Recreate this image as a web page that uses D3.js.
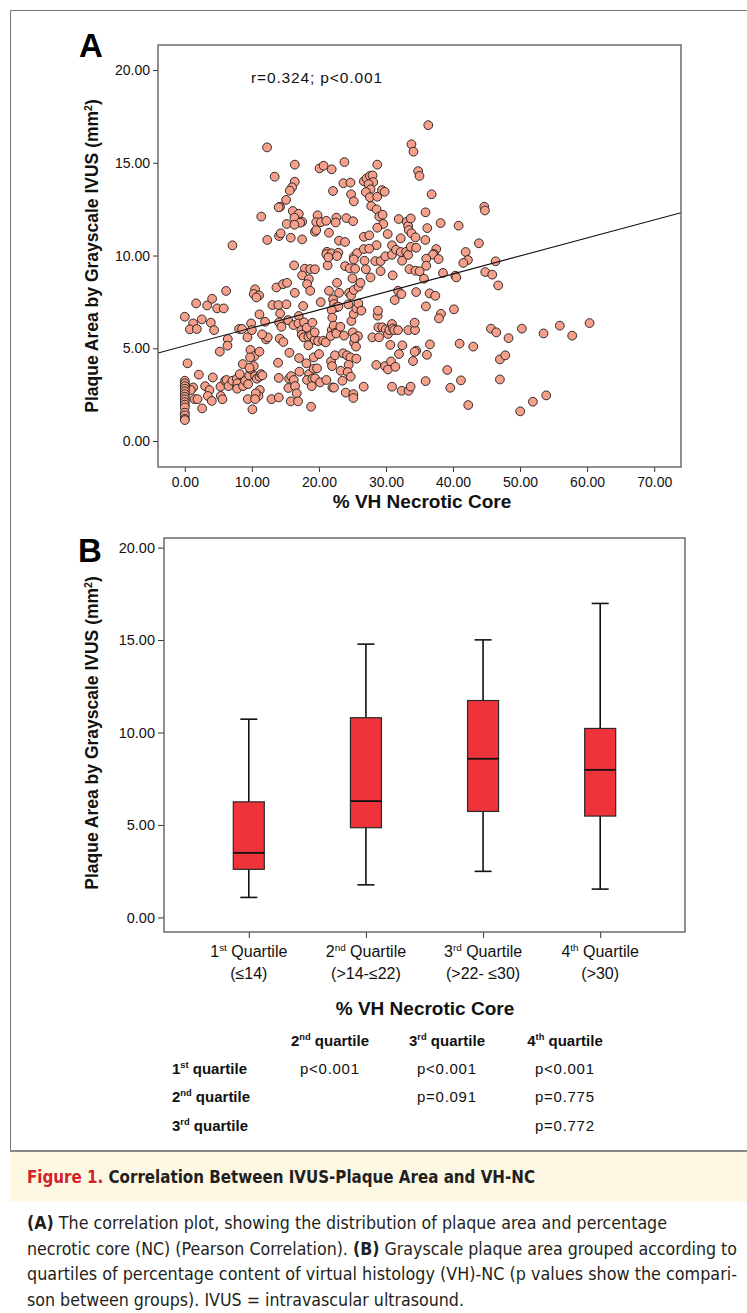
<!DOCTYPE html>
<html lang='en'>

<head>
    <meta charset='utf-8'>
    <title>Figure 1</title>
    <style>
        body {
            margin: 0;
            background-color: white;
        }

        svg {
            display: block;
            font-family: 'Liberation Sans', Arimo, Arial, sans-serif;
        }

        .caption {
            font-family: 'Liberation Sans Narrow', 'DejaVu Sans Condensed', sans-serif;
        }
    </style>
    <script src='https://cdnjs.cloudflare.com/ajax/libs/d3/7.8.5/d3.min.js' charset='utf-8'></script>
</head>

<body>
    <div id='placeholder'></div>
    <script type="text/javascript">
        const WIDTH = 747;
        const HEIGHT = 1313;

        // panel A: % VH necrotic core vs plaque area (mm2)
        var scatterPoints = [
            [12.27, 15.83], [16.4, 14.9], [20.1, 14.7], [20.7, 14.84], [21.9, 14.65], [23.8, 15.04], [28.7, 14.9],
            [33.8, 16.0], [34.1, 15.6], [13.4, 14.25], [16.4, 13.98], [16.0, 13.68], [15.65, 13.5], [15.1, 13.0],
            [14.2, 12.63], [14.0, 12.6], [22.1, 13.48], [23.65, 13.9], [24.7, 13.93], [24.8, 13.3], [25.2, 12.92],
            [26.7, 14.0], [27.1, 14.16], [27.6, 14.29], [28.0, 14.32], [28.1, 13.96], [27.4, 13.85], [27.7, 13.57],
            [27.0, 13.42], [27.6, 13.14], [28.7, 13.17], [27.8, 12.67], [28.6, 12.49], [29.4, 13.53], [29.8, 13.44],
            [29.0, 12.1], [29.5, 12.2], [29.6, 11.7], [28.7, 11.5], [34.8, 14.55], [35.0, 14.29], [11.4, 12.1],
            [7.1, 10.55], [12.3, 10.84], [14.05, 11.05], [14.3, 11.2], [15.8, 10.96], [17.5, 10.87],
            [16.1, 12.4], [17.0, 12.25], [16.35, 12.04], [17.5, 11.82], [17.2, 11.77], [15.2, 11.7], [16.35, 11.66],
            [19.8, 12.17], [19.6, 11.8], [20.3, 11.8], [21.1, 11.87], [22.6, 12.04], [22.5, 11.78], [24.1, 12.02],
            [25.1, 11.85], [19.4, 11.28], [19.6, 11.37], [21.5, 11.23], [23.0, 10.8], [23.9, 10.73],
            [26.7, 11.01], [27.5, 11.09], [28.6, 10.56], [30.25, 11.16], [30.9, 10.55], [31.9, 11.97], [32.2, 10.93],
            [33.1, 11.82], [33.3, 11.59], [33.7, 12.0], [33.4, 11.37], [33.8, 11.2], [34.4, 10.98],
            [21.2, 10.2], [21.1, 10.08], [21.9, 10.12], [22.9, 10.15], [22.7, 9.97], [21.3, 9.47], [21.4, 9.9],
            [25.2, 9.93], [25.7, 10.13], [26.7, 10.35], [27.5, 10.37], [25.2, 9.79], [26.8, 9.72], [28.4, 9.7],
            [29.2, 9.7], [29.9, 9.96], [30.9, 10.04], [31.5, 10.31], [32.2, 10.19], [33.0, 10.2], [33.3, 10.03],
            [32.4, 9.72], [33.7, 10.47], [34.5, 10.42], [33.5, 9.27], [34.4, 9.18], [16.3, 9.47],
            [17.9, 9.29], [18.7, 9.27], [19.4, 9.26], [17.5, 8.93], [18.5, 8.73],
            [23.9, 9.43], [24.6, 9.31], [25.4, 9.29], [27.0, 9.26], [25.0, 8.77], [27.7, 8.82], [29.2, 9.16], [31.0, 8.93],
            [10.48, 8.18], [10.28, 7.93], [11.08, 7.85], [10.68, 7.74], [13.66, 8.28], [14.65, 8.46], [15.25, 8.53],
            [16.4, 7.99], [18.23, 8.46], [18.7, 8.1], [21.5, 8.1], [22.7, 8.53], [23.0, 7.99], [24.5, 7.99],
            [24.8, 7.85], [25.2, 8.14], [25.9, 8.32], [26.2, 8.53], [31.8, 8.1], [32.3, 7.92], [34.5, 8.03],
            [1.69, 7.42], [3.33, 7.31], [4.07, 7.67], [4.82, 7.15], [5.81, 7.15], [6.16, 8.09], [0.0, 6.70],
            [1.24, 6.34], [0.75, 6.02], [1.79, 6.04], [2.53, 6.56], [3.88, 6.38], [4.37, 5.98],
            [6.41, 5.50], [6.36, 5.14], [5.22, 4.82], [8.1, 6.04], [8.54, 6.04], [9.89, 6.34], [9.34, 5.59],
            [9.79, 4.91], [10.38, 4.58], [11.13, 4.82], [11.97, 6.43], [12.12, 5.48], [12.37, 5.59], [11.53, 5.75],
            [11.13, 6.83], [10.0, 5.98], [13.06, 7.33], [13.96, 7.33], [14.21, 6.88], [14.06, 6.40], [14.41, 6.16],
            [14.16, 5.52], [14.70, 5.34], [15.40, 6.52], [15.15, 7.37], [16.99, 6.74], [17.64, 7.28], [16.2, 6.25],
            [16.94, 6.34], [17.39, 5.98], [17.78, 6.40], [18.18, 6.11], [19.03, 6.38], [17.44, 5.73], [17.73, 5.59],
            [18.43, 5.62], [18.83, 5.71], [18.43, 5.16], [19.37, 5.45], [19.87, 5.39], [19.37, 5.86], [20.27, 7.49],
            [20.62, 5.41], [21.01, 5.32], [22.1, 7.64], [22.25, 7.39], [22.6, 7.21], [22.9, 7.24], [21.9, 7.06],
            [22.0, 6.65], [21.9, 5.98], [22.2, 6.22], [22.45, 5.84], [21.76, 5.66], [22.6, 5.80], [23.2, 6.16],
            [23.75, 5.68], [24.39, 7.37], [24.84, 6.47], [25.19, 6.85], [25.58, 7.15], [25.88, 7.42], [26.33, 7.03],
            [25.04, 5.86], [25.24, 5.30], [25.53, 5.09], [25.83, 5.66], [25.33, 5.55],
            [27.97, 5.59], [28.96, 5.59], [28.76, 6.76], [28.81, 7.03], [28.86, 6.13], [29.46, 6.13], [29.95, 6.02],
            [30.3, 5.77], [30.5, 5.98], [30.9, 6.31], [31.05, 6.07], [31.25, 5.98], [31.3, 7.60], [31.8, 5.98],
            [30.65, 5.18], [31.94, 4.69], [32.44, 5.16], [33.33, 5.98], [34.33, 5.98], [34.28, 6.38], [34.52, 4.87],
            [34.28, 4.81], [34.03, 4.31], [15.6, 4.76], [19.23, 4.51], [20.02, 4.69],
            [0.4, 4.19], [2.09, 3.58], [4.17, 3.43], [1.24, 2.89], [0.89, 2.75], [1.44, 2.26], [1.89, 2.26],
            [2.58, 1.76], [3.03, 2.96], [3.68, 2.75], [3.43, 2.43], [4.02, 2.16], [5.32, 2.93], [5.37, 2.43],
            [5.61, 2.25], [6.01, 3.25], [6.21, 3.29], [6.51, 2.96], [7.1, 3.25], [7.75, 3.36], [8.2, 3.61],
            [8.64, 4.15], [7.85, 3.11], [7.8, 2.82], [8.69, 2.96], [8.99, 3.25], [9.44, 3.07], [9.59, 3.54],
            [9.79, 3.88], [10.28, 4.04], [10.48, 3.5], [10.73, 3.36], [11.13, 3.47], [11.38, 3.61], [11.57, 3.54],
            [11.18, 2.75], [10.98, 2.43], [10.58, 2.57], [9.39, 2.26], [10.48, 2.26], [10.08, 1.71], [9.74, 4.51],
            [9.64, 3.95], [12.92, 2.26], [14.01, 3.4], [13.91, 4.22], [14.01, 2.35], [15.55, 3.36], [15.45, 2.86],
            [15.8, 2.14], [15.85, 3.5], [16.24, 3.29], [16.44, 2.96], [16.69, 2.57], [16.89, 2.14], [17.04, 4.47],
            [17.09, 3.74], [18.13, 4.19], [18.53, 3.61], [18.83, 1.85], [18.23, 3.29], [19.03, 3.36], [19.42, 3.38],
            [18.93, 2.96], [19.23, 3.9], [19.72, 3.92], [20.17, 3.16], [21.11, 3.29], [22.01, 2.89], [22.25, 2.88],
            [21.81, 4.29], [21.96, 4.04], [22.4, 4.62], [23.6, 4.73], [24.19, 4.62], [24.69, 4.51], [25.58, 4.44],
            [24.44, 4.11], [23.25, 3.79], [24.29, 3.72], [24.74, 3.47], [23.5, 3.25], [24.0, 2.61], [25.14, 2.53],
            [25.14, 2.32], [26.68, 2.93], [28.56, 4.1], [29.86, 4.04], [30.3, 3.86], [30.75, 4.29], [31.4, 4.0],
            [30.9, 2.93], [32.34, 2.71], [33.38, 2.71], [33.68, 2.93],
            [0, 3.25], [0, 3.11], [0, 2.96], [0, 2.82], [0, 2.68], [0, 2.53], [0, 2.39], [0, 2.25], [0, 2.1],
            [0, 1.96], [0, 1.81], [0, 1.53], [0, 1.38], [0, 1.2], [0, 1.13],
            [36.31, 17.03], [36.81, 13.3], [35.9, 12.33], [36.16, 11.48], [38.15, 11.75], [40.83, 11.61],
            [44.66, 12.63], [44.76, 12.43], [35.87, 10.84], [37.5, 10.35], [37.16, 10.08], [37.0, 10.05],
            [37.85, 9.81], [36.01, 9.83], [36.01, 9.45], [35.02, 9.15], [35.67, 8.75], [38.5, 9.06], [40.34, 8.91],
            [40.49, 8.82], [41.88, 10.19], [42.22, 9.76], [41.53, 9.6], [43.86, 10.66], [46.35, 9.69], [44.81, 9.11],
            [45.85, 8.97],
            [46.74, 8.39], [36.51, 7.96], [37.36, 7.83], [35.96, 7.26], [38.2, 6.86], [37.9, 6.61], [40.14, 7.1],
            [36.56, 5.21], [36.11, 4.65], [40.98, 5.25], [43.02, 5.09], [45.65, 6.06], [46.45, 5.86], [48.28, 5.55],
            [50.27, 6.06], [53.5, 5.8], [55.93, 6.22], [57.77, 5.68], [60.36, 6.36], [46.99, 4.4], [47.79, 4.62],
            [39.14, 3.83], [35.91, 3.23], [41.18, 3.27], [39.59, 2.87], [46.99, 3.32], [42.27, 1.94], [50.02, 1.6],
            [51.91, 2.12], [53.9, 2.46]
        ];
        var fitIntercept = 5.13;
        var fitSlope = 0.097;
        var corrText = 'r=0.324; p<0.001';
        var xTicksA = [0, 10, 20, 30, 40, 50, 60, 70];
        var yTicks = [0, 5, 10, 15, 20];

        // panel B: box plot per NC quartile
        var quartileNums = ['1', '2', '3', '4'];
        var quartileSups = ['st', 'nd', 'rd', 'th'];
        var quartileRanges = ['(\u226414)', '(>14-\u226422)', '(>22- \u226430)', '(>30)'];
        var boxMin = [1.08, 1.76, 2.49, 1.53];
        var boxQ1 = [2.6, 4.85, 5.73, 5.48];
        var boxMedian = [3.49, 6.29, 8.58, 7.98];
        var boxQ3 = [6.25, 10.8, 11.73, 10.22];
        var boxMax = [10.72, 14.78, 15.01, 16.98];

        // comparison table
        var tableCols = [['2', 'nd'], ['3', 'rd'], ['4', 'th']];
        var tableRows = [['1', 'st'], ['2', 'nd'], ['3', 'rd']];
        var tableP = [
            ['p<0.001', 'p<0.001', 'p<0.001'],
            ['', 'p=0.091', 'p=0.775'],
            ['', '', 'p=0.772']
        ];

        var svg = d3.select('#placeholder')
            .append('svg')
            .attr('width', WIDTH)
            .attr('height', HEIGHT);

        // figure border + caption band
        svg.append('path')
            .attr('d', 'M747,10.5H10.5V1151')
            .attr('fill', 'none')
            .attr('stroke', '#777')
            .attr('stroke-width', 1);
        svg.append('rect')
            .attr('x', 10).attr('y', 1152)
            .attr('width', WIDTH - 10).attr('height', 50)
            .attr('fill', '#fcf8e3');
        svg.append('line')
            .attr('x1', 10).attr('x2', WIDTH)
            .attr('y1', 1151).attr('y2', 1151)
            .attr('stroke', '#888')
            .attr('stroke-width', 2);

        function ordinal(sel, num, sup, rest, size) {
            sel.append('tspan').text(num);
            sel.append('tspan').text(sup)
                .attr('font-size', size * 0.62)
                .attr('dy', -size * 0.38);
            sel.append('tspan').text(rest)
                .attr('dy', size * 0.38);
        }

        function styleAxis(g, size) {
            g.select('.domain').remove();
            g.selectAll('.tick line').attr('stroke', '#333');
            g.selectAll('.tick text')
                .attr('font-size', size)
                .attr('font-family', "'Liberation Sans', Arimo, Arial, sans-serif")
                .attr('fill', '#111');
        }

        function frame(x0, y0, x1, y1) {
            svg.append('rect')
                .attr('x', x0).attr('y', y0)
                .attr('width', x1 - x0).attr('height', y1 - y0)
                .attr('fill', 'none')
                .attr('stroke', '#555')
                .attr('stroke-width', 1.3);
        }

        function yLabel(x, y) {
            var t = svg.append('text')
                .attr('transform', 'translate(' + x + ',' + y + ') rotate(-90)')
                .attr('text-anchor', 'middle')
                .attr('font-size', 17.5)
                .attr('font-weight', 'bold')
                .attr('fill', '#111');
            t.append('tspan').text('Plaque Area by Grayscale IVUS (mm');
            t.append('tspan').text('2').attr('font-size', 10.5).attr('dy', -6.5);
            t.append('tspan').text(')').attr('dy', 6.5);
        }

        // ---------- panel A ----------
        var xA = d3.scaleLinear().domain([-4, 74]).range([158, 681]);
        var yA = d3.scaleLinear().domain([-1.4, 21.35]).range([467, 45]);

        svg.append('clipPath').attr('id', 'clipA')
            .append('rect').attr('x', 158).attr('y', 45).attr('width', 523).attr('height', 422);

        svg.append('g')
            .attr('transform', 'translate(158,0)')
            .call(d3.axisLeft(yA).tickValues(yTicks).tickFormat(d3.format('.2f')).tickSize(5).tickPadding(3))
            .call(styleAxis, 14);

        svg.append('g')
            .attr('transform', 'translate(0,467)')
            .call(d3.axisBottom(xA).tickValues(xTicksA).tickFormat(d3.format('.2f')).tickSize(5).tickPadding(5))
            .call(styleAxis, 14);

        svg.append('g')
            .attr('clip-path', 'url(#clipA)')
            .selectAll('circle')
            .data(scatterPoints)
            .enter()
            .append('circle')
            .attr('cx', function (d) { return xA(d[0]); })
            .attr('cy', function (d) { return yA(d[1]); })
            .attr('r', 4.4)
            .attr('fill', '#f6a08b')
            .attr('stroke', '#1a1a1a')
            .attr('stroke-width', 0.9);

        svg.append('line')
            .attr('clip-path', 'url(#clipA)')
            .attr('x1', xA(-4)).attr('y1', yA(fitIntercept + fitSlope * -4))
            .attr('x2', xA(74)).attr('y2', yA(fitIntercept + fitSlope * 74))
            .attr('stroke', '#111')
            .attr('stroke-width', 1.1);

        frame(158, 45, 681, 467);

        svg.append('text')
            .text(corrText)
            .attr('x', 251).attr('y', 83)
            .attr('font-size', 15.5)
            .attr('fill', '#111')
            .attr('textLength', 131)
            .attr('lengthAdjust', 'spacing');

        svg.append('text')
            .text('A')
            .attr('x', 79).attr('y', 57)
            .attr('font-size', 33)
            .attr('font-weight', 'bold');

        yLabel(98, 256);

        svg.append('text')
            .text('% VH Necrotic Core')
            .attr('x', 422).attr('y', 508)
            .attr('text-anchor', 'middle')
            .attr('font-size', 19)
            .attr('font-weight', 'bold')
            .attr('fill', '#111');

        // ---------- panel B ----------
        var xB = d3.scalePoint().domain(quartileNums).range([164, 685]).padding(0.724);
        var yB = d3.scaleLinear().domain([-0.79, 20.52]).range([932, 538]);

        svg.append('g')
            .attr('transform', 'translate(164,0)')
            .call(d3.axisLeft(yB).tickValues(yTicks).tickFormat(d3.format('.2f')).tickSize(6).tickPadding(3))
            .call(styleAxis, 14.5);

        svg.append('g')
            .attr('transform', 'translate(0,932)')
            .call(d3.axisBottom(xB).tickSize(6).tickFormat(''))
            .call(styleAxis, 14);

        var boxes = svg.append('g')
            .selectAll('g')
            .data(quartileNums)
            .enter()
            .append('g');

        // whisker
        boxes.append('line')
            .attr('x1', function (d) { return xB(d); })
            .attr('x2', function (d) { return xB(d); })
            .attr('y1', function (d, i) { return yB(boxMin[i]); })
            .attr('y2', function (d, i) { return yB(boxMax[i]); })
            .attr('stroke', '#111')
            .attr('stroke-width', 1.6);
        boxes.selectAll('.cap')
            .data(function (d, i) { return [[d, boxMin[i]], [d, boxMax[i]]]; })
            .enter()
            .append('line')
            .attr('class', 'cap')
            .attr('x1', function (d) { return xB(d[0]) - 8.5; })
            .attr('x2', function (d) { return xB(d[0]) + 8.5; })
            .attr('y1', function (d) { return yB(d[1]); })
            .attr('y2', function (d) { return yB(d[1]); })
            .attr('stroke', '#111')
            .attr('stroke-width', 1.6);
        boxes.append('rect')
            .attr('x', function (d) { return xB(d) - 15.5; })
            .attr('width', 31)
            .attr('y', function (d, i) { return yB(boxQ3[i]); })
            .attr('height', function (d, i) { return yB(boxQ1[i]) - yB(boxQ3[i]); })
            .attr('fill', '#ef333b')
            .attr('stroke', '#2a2a2a')
            .attr('stroke-width', 1.2);
        boxes.append('line')
            .attr('x1', function (d) { return xB(d) - 15.5; })
            .attr('x2', function (d) { return xB(d) + 15.5; })
            .attr('y1', function (d, i) { return yB(boxMedian[i]); })
            .attr('y2', function (d, i) { return yB(boxMedian[i]); })
            .attr('stroke', '#111')
            .attr('stroke-width', 1.8);

        frame(164, 538, 685, 932);

        quartileNums.forEach(function (q, i) {
            var t = svg.append('text')
                .attr('x', xB(q)).attr('y', 957)
                .attr('text-anchor', 'middle')
                .attr('font-size', 16)
                .attr('fill', '#111');
            ordinal(t, q, quartileSups[i], ' Quartile', 16);
            svg.append('text')
                .text(quartileRanges[i])
                .attr('x', xB(q)).attr('y', 979)
                .attr('text-anchor', 'middle')
                .attr('font-size', 16)
                .attr('fill', '#111');
        });

        svg.append('text')
            .text('% VH Necrotic Core')
            .attr('x', 425).attr('y', 1015)
            .attr('text-anchor', 'middle')
            .attr('font-size', 19)
            .attr('font-weight', 'bold')
            .attr('fill', '#111');

        svg.append('text')
            .text('B')
            .attr('x', 78).attr('y', 562)
            .attr('font-size', 33)
            .attr('font-weight', 'bold');

        yLabel(98, 733);

        // ---------- table ----------
        var colX = [330, 447, 565];
        var rowY = [1074, 1102, 1131];

        tableCols.forEach(function (c, i) {
            var t = svg.append('text')
                .attr('x', colX[i]).attr('y', 1046)
                .attr('text-anchor', 'middle')
                .attr('font-size', 15)
                .attr('font-weight', 'bold')
                .attr('fill', '#111');
            ordinal(t, c[0], c[1], ' quartile', 15);
        });

        tableRows.forEach(function (r, j) {
            var t = svg.append('text')
                .attr('x', 172).attr('y', rowY[j])
                .attr('font-size', 15)
                .attr('font-weight', 'bold')
                .attr('fill', '#111');
            ordinal(t, r[0], r[1], ' quartile', 15);
            tableP[j].forEach(function (p, i) {
                if (p === '') return;
                svg.append('text')
                    .text(p)
                    .attr('x', colX[i] - 30).attr('y', rowY[j])
                    .attr('font-size', 15)
                    .attr('fill', '#111')
                    .attr('textLength', 59)
                    .attr('lengthAdjust', 'spacing');
            });
        });

        // ---------- caption ----------
        var title = svg.append('text')
            .attr('class', 'caption')
            .attr('x', 27).attr('y', 1183)
            .attr('font-size', 18)
            .attr('font-weight', 'bold')
            .attr('textLength', 508)
            .attr('lengthAdjust', 'spacingAndGlyphs');
        title.append('tspan').text('Figure 1.').attr('fill', '#d2232a');
        title.append('tspan').text(' Correlation Between IVUS-Plaque Area and VH-NC').attr('fill', '#231f20');

        var captionLines = [
            [['(A)', true], [' The correlation plot, showing the distribution of plaque area and percentage', false]],
            [['necrotic core (NC) (Pearson Correlation). ', false], ['(B)', true], [' Grayscale plaque area grouped according to', false]],
            [['quartiles of percentage content of virtual histology (VH)-NC (p values show the compari-', false]],
            [['son between groups). IVUS = intravascular ultrasound.', false]]
        ];
        var captionWidths = [640, 710, 710, 437];

        captionLines.forEach(function (line, k) {
            var t = svg.append('text')
                .attr('class', 'caption')
                .attr('x', 27).attr('y', 1229 + k * 25.7)
                .attr('font-size', 17)
                .attr('fill', '#231f20')
                .attr('textLength', captionWidths[k])
                .attr('lengthAdjust', 'spacingAndGlyphs');
            line.forEach(function (part) {
                t.append('tspan')
                    .text(part[0])
                    .attr('font-weight', part[1] ? 'bold' : 'normal');
            });
        });
    </script>
</body>

</html>
